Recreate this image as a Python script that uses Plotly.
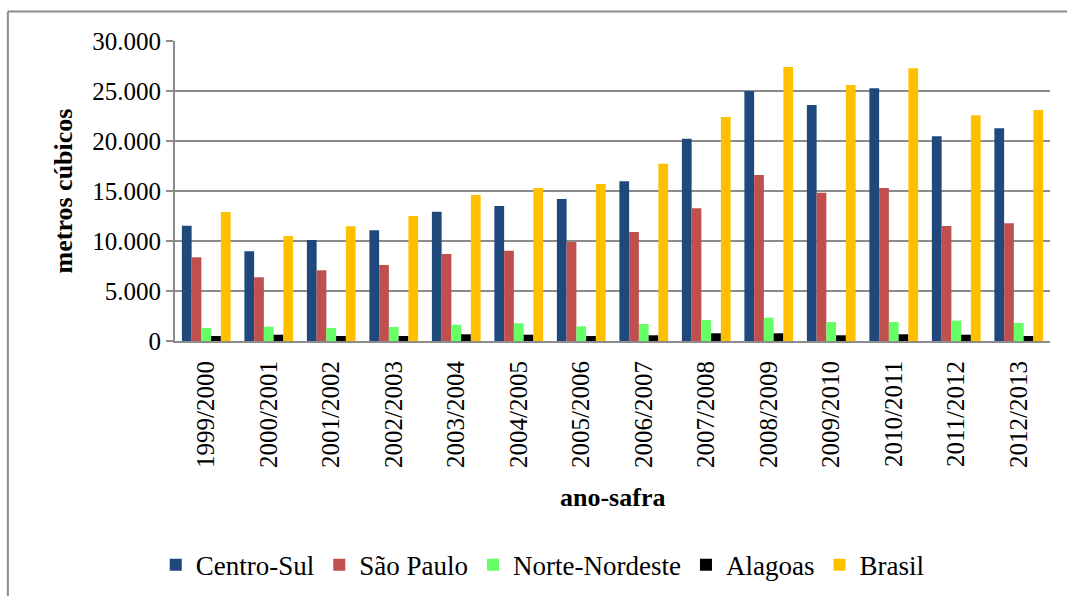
import plotly.graph_objects as go

safras = ["1999/2000", "2000/2001", "2001/2002", "2002/2003", "2003/2004",
          "2004/2005", "2005/2006", "2006/2007", "2007/2008", "2008/2009",
          "2009/2010", "2010/2011", "2011/2012", "2012/2013"]

centro_sul = [11530, 8970, 10100, 11070, 12930, 13500, 14200, 15970, 20230, 25000, 23600, 25270, 20470, 21270]
sao_paulo = [8370, 6370, 7070, 7600, 8700, 9030, 9900, 10900, 13270, 16600, 14830, 15300, 11500, 11770]
norte_nordeste = [1300, 1430, 1300, 1400, 1630, 1770, 1470, 1700, 2100, 2330, 1900, 1900, 2030, 1800]
alagoas = [500, 630, 500, 500, 670, 630, 500, 570, 770, 770, 570, 670, 630, 500]
brasil = [12900, 10500, 11470, 12500, 14600, 15300, 15700, 17730, 22400, 27400, 25600, 27270, 22570, 23100]

series_names = ["Centro-Sul", "São Paulo", "Norte-Nordeste", "Alagoas", "Brasil"]
series_values = [centro_sul, sao_paulo, norte_nordeste, alagoas, brasil]
series_colors = ["#1F497D", "#C0504D", "#66FF66", "#000000", "#FFC000"]

y_tick_vals = [0, 5000, 10000, 15000, 20000, 25000, 30000]
y_tick_text = ["0", "5.000", "10.000", "15.000", "20.000", "25.000", "30.000"]

FONT = "Liberation Serif"

fig = go.Figure()
for name, vals, col in zip(series_names, series_values, series_colors):
    fig.add_trace(go.Bar(x=safras, y=vals, name=name, marker_color=col,
                         marker_line_width=0))

frame = dict(color="#8C8C8C", width=2)
fig.update_layout(
    width=1067, height=596,
    margin=dict(l=175, r=17, t=41, b=255, autoexpand=False),
    paper_bgcolor="white", plot_bgcolor="white",
    barmode="group", bargap=0.22, bargroupgap=0,
    font=dict(family=FONT, size=25, color="black"),
    showlegend=True,
    legend=dict(orientation="h", x=-0.022, xanchor="left", y=-0.747, yanchor="middle",
                font=dict(family=FONT, size=27, color="black"),
                itemwidth=30, tracegroupgap=0, traceorder="normal"),
    shapes=[
        dict(type="line", xref="paper", yref="paper",
             x0=-0.191, x1=1.05, y0=1.0983, y1=1.0983, line=frame, layer="below"),
        dict(type="line", xref="paper", yref="paper",
             x0=-0.191, x1=-0.191, y0=-0.9, y1=1.0983, line=frame, layer="below"),
    ],
    annotations=[dict(text="<b>ano-safra</b>", xref="paper", yref="paper",
                      x=0.5, y=-0.52, xanchor="center", yanchor="middle",
                      showarrow=False, font=dict(family=FONT, size=26, color="black"))],
)

fig.update_xaxes(
    type="category", tickangle=-90, showgrid=False,
    showline=True, linecolor="#8C8C8C", linewidth=2,
    ticks="", tickfont=dict(family=FONT, size=25, color="black"),
    ticklabelstandoff=8,
)
fig.update_yaxes(
    range=[0, 30000], tickvals=y_tick_vals, ticktext=y_tick_text,
    showgrid=True, gridcolor="#8C8C8C", gridwidth=2,
    showline=True, linecolor="#8C8C8C", linewidth=2,
    ticks="outside", ticklen=7, tickcolor="#8C8C8C", tickwidth=2,
    tickfont=dict(family=FONT, size=25, color="black"),
    zeroline=False,
    title=dict(text="<b>metros cúbicos</b>", standoff=12,
               font=dict(family=FONT, size=26, color="black")),
)

fig.write_html("out.html")
